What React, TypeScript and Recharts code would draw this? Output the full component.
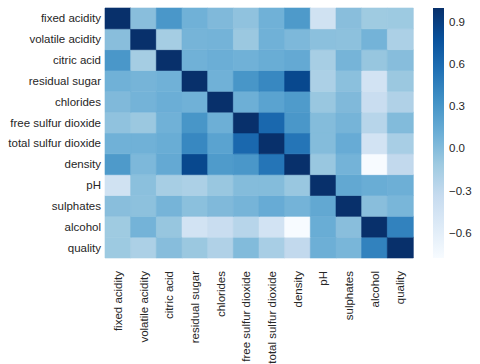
import React from 'react';
import { BarChart, Bar, XAxis, YAxis, Cell } from 'recharts';

const features = [
  'fixed acidity', 'volatile acidity', 'citric acid', 'residual sugar', 'chlorides',
  'free sulfur dioxide', 'total sulfur dioxide', 'density', 'pH', 'sulphates', 'alcohol', 'quality',
];

const fixedAcidity = [1.0, -0.02, 0.29, 0.09, 0.02, -0.05, 0.09, 0.27, -0.43, -0.02, -0.12, -0.11];
const volatileAcidity = [-0.02, 1.0, -0.15, 0.06, 0.07, -0.10, 0.09, 0.03, -0.03, -0.04, 0.07, -0.19];
const citricAcid = [0.29, -0.15, 1.0, 0.09, 0.11, 0.09, 0.12, 0.15, -0.16, 0.06, -0.08, -0.01];
const residualSugar = [0.09, 0.06, 0.09, 1.0, 0.09, 0.30, 0.40, 0.84, -0.19, -0.03, -0.45, -0.10];
const chlorides = [0.02, 0.07, 0.11, 0.09, 1.0, 0.10, 0.20, 0.26, -0.09, 0.02, -0.36, -0.21];
const freeSulfur = [-0.05, -0.10, 0.09, 0.30, 0.10, 1.0, 0.62, 0.29, 0.0, 0.06, -0.25, 0.01];
const totalSulfur = [0.09, 0.09, 0.12, 0.40, 0.20, 0.62, 1.0, 0.53, 0.0, 0.13, -0.45, -0.17];
const density = [0.27, 0.03, 0.15, 0.84, 0.26, 0.29, 0.53, 1.0, -0.09, 0.07, -0.78, -0.31];
const pH = [-0.43, -0.03, -0.16, -0.19, -0.09, 0.0, 0.0, -0.09, 1.0, 0.16, 0.12, 0.10];
const sulphates = [-0.02, -0.04, 0.06, -0.03, 0.02, 0.06, 0.13, 0.07, 0.16, 1.0, -0.02, 0.05];
const alcohol = [-0.12, 0.07, -0.08, -0.45, -0.36, -0.25, -0.45, -0.78, 0.12, -0.02, 1.0, 0.44];
const quality = [-0.11, -0.19, -0.01, -0.10, -0.21, 0.01, -0.17, -0.31, 0.10, 0.05, 0.44, 1.0];

const corr = [
  fixedAcidity, volatileAcidity, citricAcid, residualSugar, chlorides, freeSulfur,
  totalSulfur, density, pH, sulphates, alcohol, quality,
];

const colorbarTicks = [-0.6, -0.3, 0.0, 0.3, 0.6, 0.9];
const vmin = -0.78;
const vmax = 1.0;

const BLUES = ['#f7fbff', '#deebf7', '#c6dbef', '#9ecae1', '#6baed6', '#4292c6', '#2171b5', '#08519c', '#08306b'];

function hexToRgb(h: string) {
  return [parseInt(h.slice(1, 3), 16), parseInt(h.slice(3, 5), 16), parseInt(h.slice(5, 7), 16)];
}
function blues(t: number) {
  const tt = Math.max(0, Math.min(1, t)) * (BLUES.length - 1);
  const i = Math.min(BLUES.length - 2, Math.floor(tt));
  const f = tt - i;
  const a = hexToRgb(BLUES[i]);
  const b = hexToRgb(BLUES[i + 1]);
  const c = a.map((v, k) => Math.round(v + (b[k] - v) * f));
  return `rgb(${c[0]},${c[1]},${c[2]})`;
}
function colorOf(v: number) {
  return blues((v - vmin) / (vmax - vmin));
}

const n = features.length;
// one entry per column; each stacked segment = one row (bottom row first)
const heatData = features.map((name) => {
  const o: any = { name };
  for (let k = 0; k < n; k++) o[`r${k}`] = 1;
  return o;
});
const cbData = [{ name: 'cb', range: [vmin, vmax] }];

const FONT = '"Liberation Sans", Arial, sans-serif';
const TXT = '#262626';

const XTick = (props: any) => {
  const { x, y, payload } = props;
  return (
    <text
      transform={`translate(${x},${y + 5}) rotate(-90)`}
      textAnchor="end"
      dy="0.35em"
      fontSize={11.5}
      fontFamily={FONT}
      fill={TXT}
    >
      {payload.value}
    </text>
  );
};

const YTick = (props: any) => {
  const { x, y, payload } = props;
  const idx = n - 1 - Math.floor(payload.value);
  return (
    <text x={x + 1} y={y} dy="0.35em" textAnchor="end" fontSize={11.5} fontFamily={FONT} fill={TXT}>
      {features[idx]}
    </text>
  );
};

const CbTick = (props: any) => {
  const { x, y, payload } = props;
  const v = payload.value as number;
  const s = (v < 0 ? '\u2212' : '') + Math.abs(v).toFixed(1);
  return (
    <text x={x} y={y} dy="0.35em" textAnchor="start" fontSize={11.5} fontFamily={FONT} fill={TXT}>
      {s}
    </text>
  );
};

const yTicks = features.map((_, k) => k + 0.5);

export default function App() {
  // top of colorbar (offset 0) = darkest, bottom (offset 100%) = lightest
  const gradStops = BLUES.slice().reverse().map((c, i) => (
    <stop key={i} offset={`${(i / (BLUES.length - 1)) * 100}%`} stopColor={c} />
  ));
  return (
    <div style={{ position: 'relative', width: 480, height: 364, background: '#fff', overflow: 'hidden' }}>
      <style>{'body{margin:0;}'}</style>
      <div style={{ position: 'absolute', left: 0, top: 0 }}>
        <BarChart
          width={480}
          height={364}
          data={heatData}
          margin={{ top: 8, right: 67, bottom: 6, left: 5 }}
          barCategoryGap={0}
          barGap={0}
        >
          <XAxis
            dataKey="name"
            type="category"
            axisLine={false}
            tickLine={false}
            tick={<XTick />}
            interval={0}
            height={100}
          />
          <YAxis
            type="number"
            domain={[0, n]}
            ticks={yTicks}
            axisLine={false}
            tickLine={false}
            tickSize={5}
            tickMargin={0}
            tick={<YTick />}
            interval={0}
            width={100}
          />
          {features.map((_, k) => {
            const row = corr[n - 1 - k];
            return (
              <Bar key={k} dataKey={`r${k}`} stackId="a" isAnimationActive={false}>
                {row.map((v, j) => (
                  <Cell key={j} fill={colorOf(v)} stroke={colorOf(v)} strokeWidth={0.6} />
                ))}
              </Bar>
            );
          })}
        </BarChart>
      </div>
      <div style={{ position: 'absolute', left: 433, top: 0 }}>
        <BarChart
          width={47}
          height={364}
          data={cbData}
          margin={{ top: 8, right: 0, bottom: 106, left: 0 }}
          barCategoryGap={0}
        >
          <defs>
            <linearGradient id="cbGrad" x1="0" y1="0" x2="0" y2="1">
              {gradStops}
            </linearGradient>
          </defs>
          <XAxis dataKey="name" hide />
          <YAxis
            orientation="right"
            type="number"
            domain={[vmin, vmax]}
            ticks={colorbarTicks}
            axisLine={false}
            tickLine={false}
            tickSize={5}
            tickMargin={0}
            tick={<CbTick />}
            width={36}
          />
          <Bar dataKey="range" fill="url(#cbGrad)" isAnimationActive={false} />
        </BarChart>
      </div>
    </div>
  );
}
